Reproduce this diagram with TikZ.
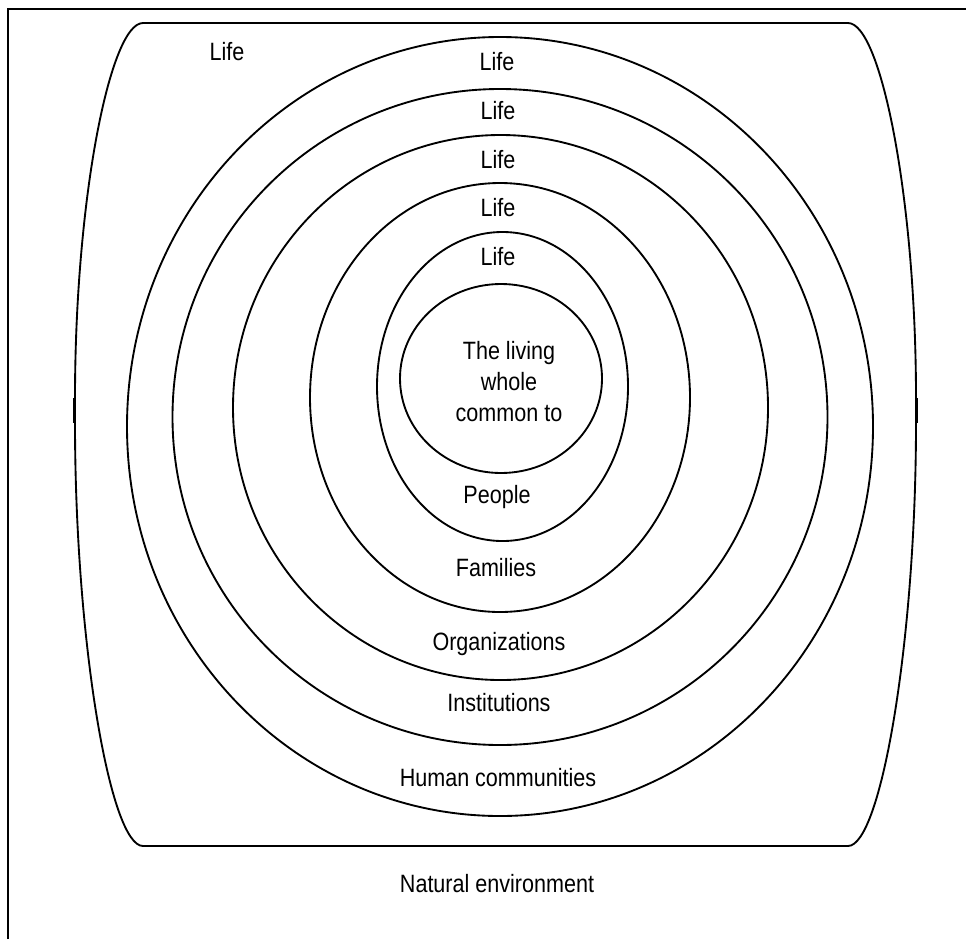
\documentclass[tikz,border=0pt]{standalone}
\usepackage{fontspec}
\setmainfont{Liberation Sans}[FakeStretch=0.86]
\begin{document}
\begin{tikzpicture}[x=0.75pt,y=-0.75pt,
  ring/.style={line width=1.4pt},
  lbl/.style={font=\fontsize{18.8}{23.25}\selectfont, inner sep=0pt, anchor=base}]
\useasboundingbox (0,0) rectangle (966,939);
% page frame (left and top edges)
\draw[line width=1.3pt] (8,939) -- (8,9) -- (966,9);
% rounded outline of the outer zone
\draw[ring] (143,23) -- (848,23)
  .. controls (881,23) and (916,200) .. (916,398) -- (916,423)
  .. controls (916,640) and (881,846) .. (848,846) -- (143,846)
  .. controls (110,846) and (75,640) .. (75,423) -- (75,398)
  .. controls (75,200) and (110,23) .. cycle;
\draw[line width=2.2pt] (74.7,398) -- (74.7,423);
\draw[line width=2.2pt] (916.3,398) -- (916.3,423);
% nested rings
\draw[ring] (500,426.5) ellipse [x radius=373, y radius=389.5];
\draw[ring] (500,417) ellipse [x radius=327.5, y radius=328];
\draw[ring] (500.5,407.5) ellipse [x radius=267.5, y radius=272.5];
\draw[ring] (500,397.5) ellipse [x radius=190, y radius=214.5];
\draw[ring] (502.5,386.5) ellipse [x radius=125.5, y radius=154.5];
\draw[ring] (501,378.5) ellipse [x radius=101, y radius=94.5];
% labels
\node[lbl] (lifeOuter) at (227,60) {Life};
\node[lbl] (life1) at (497,70) {Life};
\node[lbl] (life2) at (498,119) {Life};
\node[lbl] (life3) at (498,168) {Life};
\node[lbl] (life4) at (498,216) {Life};
\node[lbl] (life5) at (498,265) {Life};
\node[lbl, anchor=north, align=center] (core) at (509,341) {The living\\whole\\common to};
\node[lbl] (people) at (497,503) {People};
\node[lbl] (families) at (496,576) {Families};
\node[lbl] (organizations) at (499,650) {Organizations};
\node[lbl] (institutions) at (499,711) {Institutions};
\node[lbl] (communities) at (498,786) {Human communities};
\node[lbl] (environment) at (497,892) {Natural environment};
\end{tikzpicture}
\end{document}
